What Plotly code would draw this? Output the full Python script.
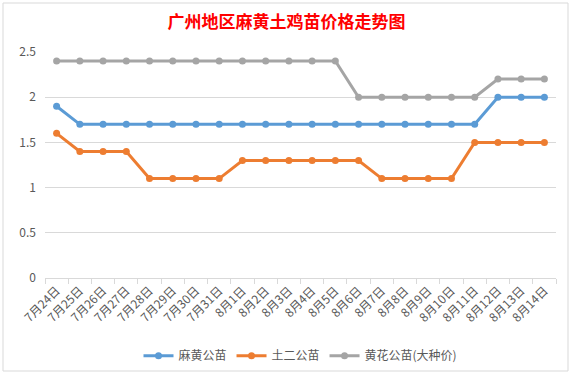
import plotly.graph_objects as go

dates = ["7月24日", "7月25日", "7月26日", "7月27日", "7月28日", "7月29日", "7月30日", "7月31日",
         "8月1日", "8月2日", "8月3日", "8月4日", "8月5日", "8月6日", "8月7日", "8月8日",
         "8月9日", "8月10日", "8月11日", "8月12日", "8月13日", "8月14日"]
mahuang = [1.9, 1.7, 1.7, 1.7, 1.7, 1.7, 1.7, 1.7, 1.7, 1.7, 1.7, 1.7, 1.7, 1.7, 1.7, 1.7,
           1.7, 1.7, 1.7, 2.0, 2.0, 2.0]
tuer = [1.6, 1.4, 1.4, 1.4, 1.1, 1.1, 1.1, 1.1, 1.3, 1.3, 1.3, 1.3, 1.3, 1.3, 1.1, 1.1,
        1.1, 1.1, 1.5, 1.5, 1.5, 1.5]
huanghua = [2.4, 2.4, 2.4, 2.4, 2.4, 2.4, 2.4, 2.4, 2.4, 2.4, 2.4, 2.4, 2.4, 2.0, 2.0, 2.0,
            2.0, 2.0, 2.0, 2.2, 2.2, 2.2]
names = ["麻黄公苗", "土二公苗", "黄花公苗(大种价)"]
colors = ["#5B9BD5", "#ED7D31", "#A5A5A5"]

font = "Noto Sans CJK SC"
fig = go.Figure()
for name, vals, c in zip(names, [mahuang, tuer, huanghua], colors):
    fig.add_trace(go.Scatter(x=dates, y=vals, name=name, mode="lines+markers",
                             line=dict(color=c, width=3), marker=dict(color=c, size=7)))

fig.update_layout(
    width=573, height=379,
    margin=dict(l=45, r=17, t=52, b=101, autoexpand=False),
    paper_bgcolor="white", plot_bgcolor="white",
    font=dict(family=font, color="#595959", size=11),
    title=dict(text="<b>广州地区麻黄土鸡苗价格走势图</b>", x=0.5, xanchor="center", y=0.942,
               yanchor="middle", font=dict(family=font, size=17, color="#FF0000")),
    legend=dict(orientation="h", x=0.5, xanchor="center", y=-0.28, yanchor="top",
                font=dict(family=font, size=12, color="#595959"), itemwidth=30,
                tracegroupgap=0),
    showlegend=True,
)
fig.update_xaxes(type="category", range=[-0.5, len(dates) - 0.5], showgrid=False,
                 showline=True, linecolor="#D9D9D9",
                 ticks="outside", tickson="boundaries", ticklen=5, tickcolor="#D9D9D9",
                 tickangle=-45, tickfont=dict(size=12, color="#595959"), automargin=False)
fig.update_yaxes(range=[0, 2.5], dtick=0.5, showgrid=True, gridcolor="#D9D9D9",
                 zeroline=False, showline=False, ticks="", tickfont=dict(size=12, color="#595959"),
                 ticklabelstandoff=8, automargin=False)
fig.add_shape(type="rect", xref="paper", yref="paper", x0=-42/511, x1=(568-45)/511,
              y0=-(371-278)/226, y1=(278-3)/226, line=dict(color="#D9D9D9", width=1))
fig.write_html("out.html", config={"displayModeBar": False},
               post_script="document.body.style.margin='0';")
